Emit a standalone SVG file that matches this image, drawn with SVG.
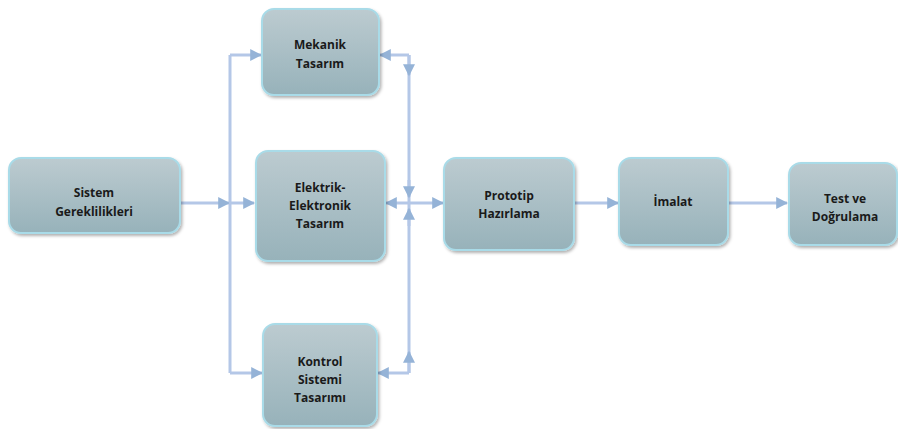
<svg xmlns="http://www.w3.org/2000/svg" width="898" height="429" viewBox="0 0 898 429">
<defs>
<linearGradient id="g" x1="0" y1="0" x2="0" y2="1">
<stop offset="0" stop-color="#bccbd0"/>
<stop offset="1" stop-color="#97b2ba"/>
</linearGradient>
<filter id="sh" x="-10%" y="-10%" width="130%" height="130%">
<feDropShadow dx="1.5" dy="2" stdDeviation="1.5" flood-color="#000" flood-opacity="0.3"/>
</filter>
<marker id="ar" viewBox="0 0 10 10" refX="9" refY="5" markerWidth="4" markerHeight="4" orient="auto" markerUnits="strokeWidth">
<path d="M0,0 L10,5 L0,10 z" fill="#95b3d7"/>
</marker>
</defs>
<style>
.box{fill:url(#g);stroke:#a9dbe8;stroke-width:2;filter:url(#sh)}
.t{font-family:"Open Sans","Liberation Sans",sans-serif;font-weight:bold;font-size:12px;fill:#1a1a1a;text-anchor:middle}
.c{fill:none;stroke:#b4c7e7;stroke-width:3}
.a{fill:none;stroke:#b4c7e7;stroke-width:3;marker-end:url(#ar)}
</style>
<rect width="898" height="429" fill="#fff"/>
<g id="connectors">
<polyline class="c" points="230,373 230,55"/>
<line class="a" x1="230" y1="55" x2="261" y2="55"/>
<polyline class="a" points="230,373 262,373"/>
<line class="a" x1="180" y1="203" x2="229" y2="203"/>
<line class="a" x1="229" y1="203" x2="254" y2="203"/>
<line class="c" x1="409" y1="55" x2="409" y2="373"/>
<line class="a" x1="409" y1="55" x2="380" y2="55"/>
<line class="a" x1="409" y1="55" x2="409" y2="75"/>
<line class="a" x1="409" y1="373" x2="378" y2="373"/>
<line class="a" x1="409" y1="373" x2="409" y2="352"/>
<line class="a" x1="409" y1="203" x2="386" y2="203"/>
<line class="a" x1="409" y1="203" x2="443" y2="203"/>
<line class="a" x1="409" y1="180" x2="409" y2="197"/>
<line class="a" x1="409" y1="226" x2="409" y2="209"/>
<line class="a" x1="574" y1="203" x2="618" y2="203"/>
<line class="a" x1="728" y1="203" x2="787" y2="203"/>
</g>
<g id="sistem">
<rect class="box" x="9" y="158" width="171" height="75" rx="12"/>
<text class="t" x="94" y="197">Sistem</text>
<text class="t" x="94" y="216">Gereklilikleri</text>
</g>
<g id="mekanik">
<rect class="box" x="262" y="9" width="117" height="86" rx="12"/>
<text class="t" x="320" y="49">Mekanik</text>
<text class="t" x="320" y="68">Tasarım</text>
</g>
<g id="elektrik">
<rect class="box" x="256" y="151" width="129" height="110" rx="12"/>
<text class="t" x="320" y="192">Elektrik-</text>
<text class="t" x="320" y="210">Elektronik</text>
<text class="t" x="320" y="228">Tasarım</text>
</g>
<g id="kontrol">
<rect class="box" x="263" y="324" width="114" height="102" rx="12"/>
<text class="t" x="320" y="366">Kontrol</text>
<text class="t" x="320" y="384">Sistemi</text>
<text class="t" x="320" y="402">Tasarımı</text>
</g>
<g id="prototip">
<rect class="box" x="444" y="158" width="130" height="92" rx="12"/>
<text class="t" x="509" y="200">Prototip</text>
<text class="t" x="509" y="218">Hazırlama</text>
</g>
<g id="imalat">
<rect class="box" x="619" y="158" width="109" height="87" rx="12"/>
<text class="t" x="673" y="206">İmalat</text>
</g>
<g id="test">
<rect class="box" x="789" y="163" width="108" height="82" rx="12"/>
<text class="t" x="845" y="203">Test ve</text>
<text class="t" x="845" y="221">Doğrulama</text>
</g>
</svg>
